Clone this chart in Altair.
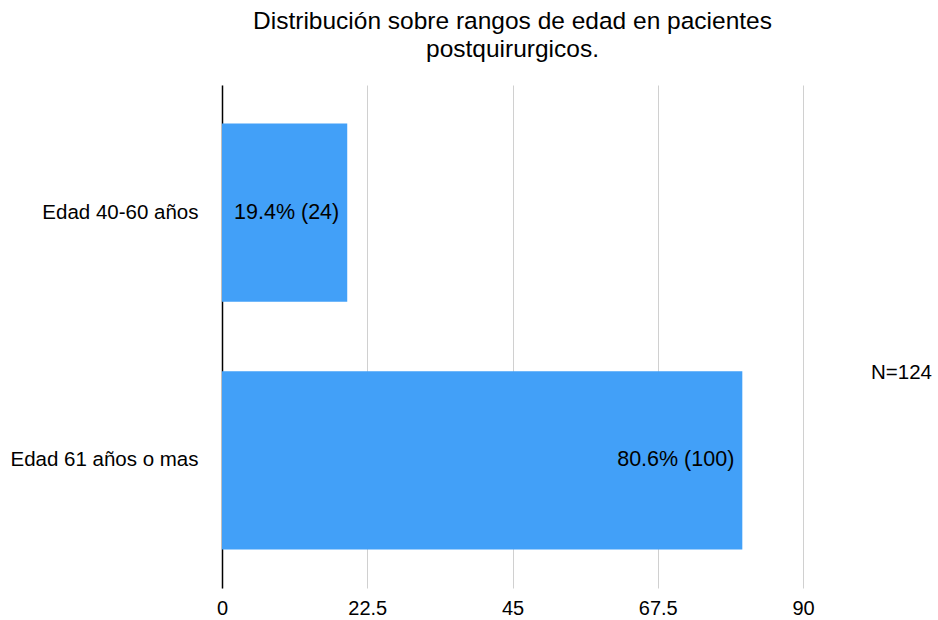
import altair as alt
import pandas as pd

categories = ["Edad 40-60 años", "Edad 61 años o mas"]
values = [19.4, 80.6]
labels = ["19.4% (24)", "80.6% (100)"]
ticks = [0, 22.5, 45, 67.5, 90]
title_lines = ["Distribución sobre rangos de edad en pacientes", "postquirurgicos."]
note = "N=124"

df = pd.DataFrame({"cat": categories, "val": values, "label": labels})

FONT = "Liberation Sans"
W, H = 581, 503

base = alt.Chart(df)

bars = base.mark_bar(color="#42A0F8").encode(
    y=alt.Y("cat:N", sort=categories, title=None,
            scale=alt.Scale(paddingInner=0.28, paddingOuter=0.155),
            axis=alt.Axis(domainColor="#000000", domainWidth=1.5, ticks=False,
                          labelFontSize=20.5, labelFont=FONT, labelColor="#000000",
                          labelPadding=24, labelLimit=300)),
    x=alt.X("val:Q", title=None,
            scale=alt.Scale(domain=[0, 90], nice=False),
            axis=alt.Axis(values=ticks, labelExpr="datum.value + ''",
                          domain=False, ticks=False,
                          grid=True, gridColor="#d0d0d0", gridWidth=1,
                          labelFontSize=20, labelFont=FONT, labelColor="#000000",
                          labelPadding=10, labelFlush=False)),
)

text = base.mark_text(align="right", baseline="middle", dx=-8, fontSize=21.5,
                      font=FONT, color="#000000").encode(
    y=alt.Y("cat:N", sort=categories),
    x="val:Q",
    text="label:N",
)

n_text = alt.Chart(pd.DataFrame({"t": [note]})).mark_text(
    align="right", baseline="middle", fontSize=20.5, font=FONT, color="#000000"
).encode(
    x=alt.value(W + 129),
    y=alt.value(288),
    text="t:N",
)

chart = alt.layer(bars, text, n_text).properties(
    width=W, height=H,
    autosize=alt.AutoSizeParams(type="none"),
    padding={"left": 222, "top": 85, "right": 135, "bottom": 32},
    title=alt.TitleParams(text=title_lines, font=FONT, fontSize=24.5,
                          fontWeight="normal", color="#000000",
                          anchor="middle", offset=23, lineHeight=28),
).configure_view(stroke=None)

chart.save("out.html", embed_options={"renderer": "svg", "actions": False})
